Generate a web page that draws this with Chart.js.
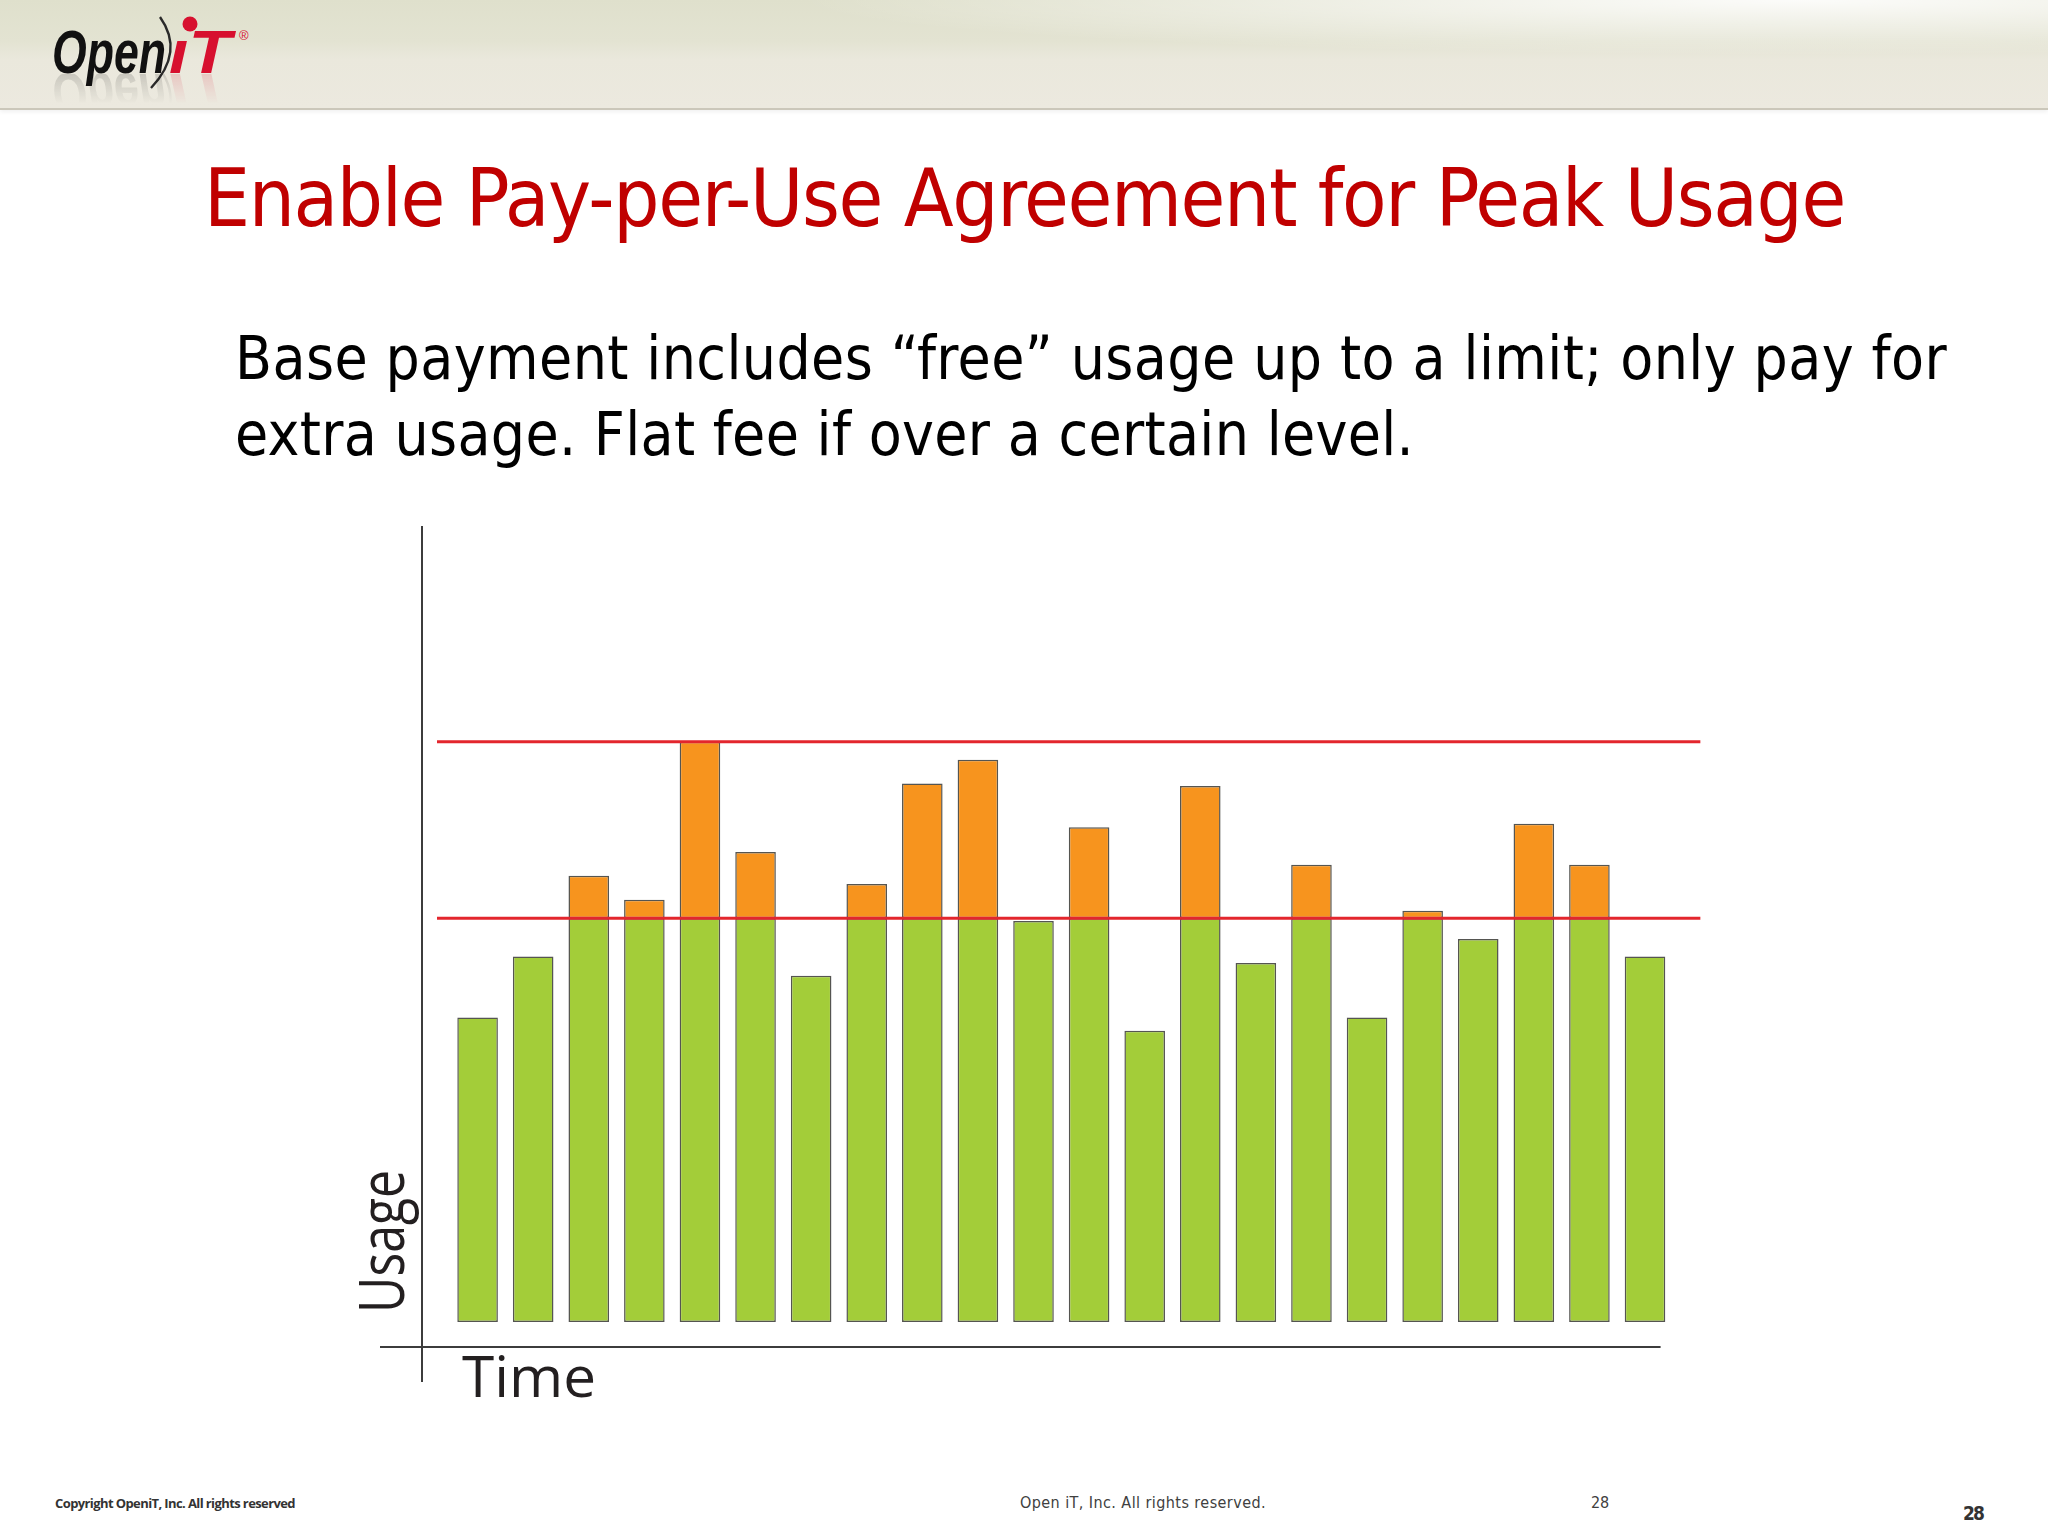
<!DOCTYPE html>
<html>
<head>
<meta charset="utf-8">
<title>Enable Pay-per-Use Agreement for Peak Usage</title>
<script src="https://cdn.jsdelivr.net/npm/chart.js@4.4.1/dist/chart.umd.min.js"></script>
<style>
  html, body { margin: 0; padding: 0; }
  body { width: 2048px; height: 1536px; position: relative; overflow: hidden; background: #fff; }
  .band {
    position: absolute; left: 0; top: 0; width: 2048px; height: 108px;
    background:
      radial-gradient(ellipse 1000px 55px at 1800px 0px, rgba(255,255,255,0.9), rgba(255,255,255,0) 100%),
      linear-gradient(#dfe0cc 0%, #e3e3d2 38%, #eae8dc 55%, #ece9df 100%);
    border-bottom: 2px solid #cbc7ba;
    box-shadow: 0 2px 4px rgba(0,0,0,0.06);
  }
  .logo { position: absolute; left: 0; top: 0; }
  .txt { position: absolute; white-space: nowrap; line-height: 1; }
  .sans { font-family: "DejaVu Sans", sans-serif; font-stretch: condensed; }
  #title { left: 204px; top: 158px; font-size: 81px; color: #c00000; }
  #sub1 { left: 235px; top: 328px; font-size: 60px; color: #000; }
  #sub2 { left: 235px; top: 404px; font-size: 60px; color: #000; }
  #copy { left: 55px; top: 1497px; font-size: 13px; font-weight: 700; color: #333; font-family: "Open Sans", sans-serif; }
  #rights { left: 1020px; top: 1495px; font-size: 16px; color: #404040; }
  #num1 { left: 1591px; top: 1495px; font-size: 16px; color: #404040; }
  #num2 { left: 1963px; top: 1504px; font-size: 19px; font-weight: 700; color: #333; }
  .chart-box { position: absolute; left: 300px; top: 480px; width: 1500px; height: 960px; }
</style>
</head>
<body>
<div class="band"></div>
<svg class="logo" width="300" height="108" viewBox="0 0 300 108">
  <defs>
    <linearGradient id="fade" x1="0" y1="0" x2="0" y2="1">
      <stop offset="0" stop-color="#fff" stop-opacity="0.5"/>
      <stop offset="1" stop-color="#fff" stop-opacity="0"/>
    </linearGradient>
    <mask id="refl"><rect x="0" y="74" width="300" height="30" fill="url(#fade)"/></mask>
  </defs>
  <g id="mark">
    <text x="52" y="73" font-family="Liberation Sans Narrow, Liberation Sans" font-weight="700" font-style="italic" font-size="62" textLength="114" lengthAdjust="spacingAndGlyphs" fill="#111">Open</text>
    <path d="M160 17 Q185 52 151 88" stroke="#2a2a2a" stroke-width="2.4" fill="none"/>
    <text x="169" y="73" font-family="Liberation Sans Narrow, Liberation Sans" font-weight="700" font-style="italic" font-size="62" textLength="62" lengthAdjust="spacingAndGlyphs" fill="#d7102f">ıT</text>
    <circle cx="190" cy="24" r="7.5" fill="#d7102f"/>
    <text x="239" y="40" font-family="Liberation Sans" font-size="13" fill="#d7102f">®</text>
  </g>
  <g mask="url(#refl)" opacity="0.3">
    <use href="#mark" transform="translate(0 146) scale(1 -1)"/>
  </g>
</svg>

<div id="title" class="txt sans">Enable Pay-per-Use Agreement for Peak Usage</div>
<div id="sub1" class="txt sans">Base payment includes “free” usage up to a limit; only pay for</div>
<div id="sub2" class="txt sans">extra usage. Flat fee if over a certain level.</div>

<div class="chart-box"><canvas id="usageChart"></canvas></div>

<div id="copy" class="txt">Copyright OpeniT, Inc. All rights reserved</div>
<div id="rights" class="txt sans">Open iT, Inc. All rights reserved.</div>
<div id="num1" class="txt sans">28</div>
<div id="num2" class="txt sans">28</div>

<script>
// time slots along the x axis
const timeSlots = [1, 2, 3, 4, 5, 6, 7, 8, 9, 10, 11, 12, 13, 14, 15, 16, 17, 18, 19, 20, 21, 22];

// usage covered by the base payment (green) and extra usage above the limit (orange)
const includedUsage = [52.5, 63, 69.6, 69.6, 69.6, 69.6, 59.7, 69.6, 69.6, 69.6, 69.1, 69.6,
                       50.2, 69.6, 61.9, 69.6, 52.5, 69.6, 66, 69.6, 69.6, 63];
const extraUsage = [null, null, 7.3, 3.2, 30.4, 11.4, null, 5.9, 23.2, 27.3, null, 15.7,
                    null, 22.8, null, 9.2, null, 1.3, null, 16.3, 9.2, null];

// the two red levels
const freeLimit = 69.6;
const flatFeeLevel = 100;
const levelSpan = [0.27, 23];

// fit text boxes to the widths measured on the slide
function fitText(id, width) {
    const el = document.getElementById(id);
    const natural = el.getBoundingClientRect().width;
    el.style.letterSpacing = ((width - natural) / el.textContent.length) + 'px';
}
fitText('title', 1641);
fitText('sub1', 1712);
fitText('sub2', 1179);
fitText('copy', 240);
fitText('rights', 246);
fitText('num1', 18);
fitText('num2', 20);

// draw a label squeezed or stretched to a given length
function drawFitted(ctx, text, length) {
    const w = ctx.measureText(text).width;
    ctx.save();
    ctx.scale(length / w, 1);
    ctx.fillText(text, 0, 0);
    ctx.restore();
}

// crossing axes and their labels
const crossAxes = {
    id: 'crossAxes',
    afterDatasetsDraw(chart) {
        const { ctx, chartArea: a } = chart;
        ctx.save();
        ctx.strokeStyle = '#3c3c3c';
        ctx.lineWidth = 2;
        ctx.beginPath();
        ctx.moveTo(a.left, a.top);
        ctx.lineTo(a.left, a.bottom + 35);
        ctx.moveTo(a.left - 42, a.bottom);
        ctx.lineTo(a.right - 40, a.bottom);
        ctx.stroke();

        ctx.fillStyle = '#231f20';
        ctx.textBaseline = 'alphabetic';

        ctx.save();
        ctx.translate(a.left + 40, a.bottom + 50);
        ctx.font = '56px "Open Sans"';
        drawFitted(ctx, 'Time', 134);
        ctx.restore();

        ctx.translate(a.left - 18, a.bottom - 34);
        ctx.rotate(-Math.PI / 2);
        ctx.font = '62px "Open Sans"';
        drawFitted(ctx, 'Usage', 143);
        ctx.restore();
    }
};

const barStyle = {
    borderColor: 'rgba(55, 55, 50, 0.85)',
    borderWidth: 1.5,
    borderSkipped: false,
    barPercentage: 0.73,
    categoryPercentage: 1,
    order: 1
};

const levelStyle = {
    type: 'line',
    borderColor: '#e3262d',
    borderWidth: 3,
    pointRadius: 0,
    fill: false,
    order: 0
};

const usageChart = new Chart(document.getElementById('usageChart'), {
    type: 'bar',
    data: {
        labels: timeSlots,
        datasets: [
            Object.assign({ label: 'Flat fee level', stack: 'cap',
                data: levelSpan.map(x => ({ x: x, y: flatFeeLevel })) }, levelStyle),
            Object.assign({ label: 'Free usage limit', stack: 'limit',
                data: levelSpan.map(x => ({ x: x, y: freeLimit })) }, levelStyle),
            Object.assign({ label: 'Included usage', data: includedUsage, backgroundColor: '#a3cd39' }, barStyle),
            Object.assign({ label: 'Extra usage', data: extraUsage, backgroundColor: '#f7941e' }, barStyle)
        ]
    },
    options: {
        responsive: true,
        maintainAspectRatio: false,
        animation: false,
        layout: {
            padding: { left: 122, right: 99.4, top: 46, bottom: 93 }
        },
        plugins: {
            legend: { display: false },
            tooltip: { enabled: false }
        },
        scales: {
            x: {
                type: 'linear',
                display: false,
                stacked: true,
                offset: false,
                min: 0,
                max: 23,
                ticks: { stepSize: 1 }
            },
            y: {
                display: false,
                stacked: true,
                min: -4.3,
                max: 137.2
            }
        }
    },
    plugins: [crossAxes]
});
</script>
</body>
</html>
